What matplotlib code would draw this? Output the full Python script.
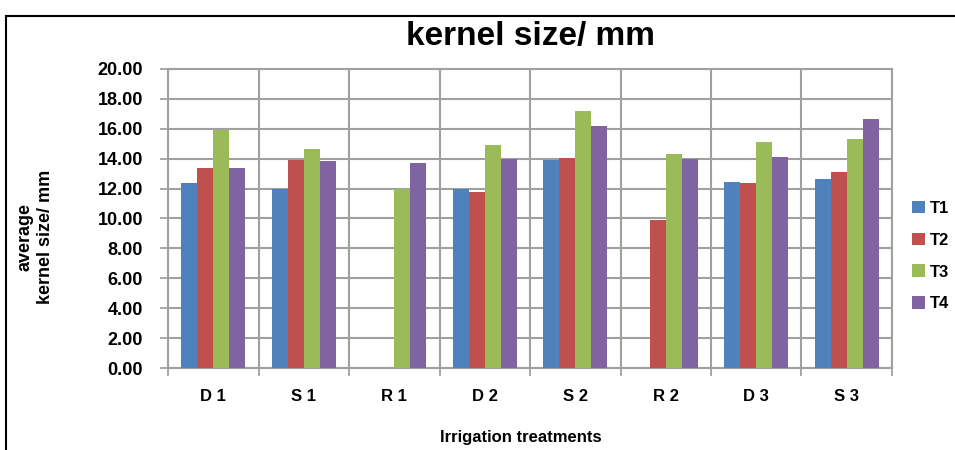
import numpy as np
import matplotlib
matplotlib.use("Agg")
import matplotlib.pyplot as plt
from matplotlib.lines import Line2D

categories = ["D 1", "S 1", "R 1", "D 2", "S 2", "R 2", "D 3", "S 3"]
series = ["T1", "T2", "T3", "T4"]
t1 = [12.40, 12.00, np.nan, 12.00, 13.90, np.nan, 12.42, 12.64]
t2 = [13.40, 13.90, np.nan, 11.80, 14.02, 9.90, 12.40, 13.13]
t3 = [15.92, 14.65, 12.00, 14.92, 17.19, 14.29, 15.09, 15.30]
t4 = [13.40, 13.85, 13.73, 13.98, 16.21, 14.00, 14.11, 16.66]
colors = ["#4F81BD", "#C0504D", "#9BBB59", "#8064A2"]

plt.rcParams["font.family"] = ["Liberation Sans", "DejaVu Sans"]

fig = plt.figure(figsize=(9.55, 4.5), dpi=100)
ax = fig.add_axes([0.176, 0.182, 0.758, 0.665])

x = np.arange(len(categories))
w = 0.177
for i, (vals, c, name) in enumerate(zip([t1, t2, t3, t4], colors, series)):
    ax.bar(x + (i - 1.5) * w, vals, w, color=c, label=name, zorder=3)

ax.set_xlim(-0.5, len(categories) - 0.5)
ax.set_ylim(0, 20)
ax.set_yticks(np.arange(0, 21, 2))
ax.set_yticklabels([f"{v:.2f}" for v in np.arange(0, 21, 2)], fontsize=13, fontweight="bold")
ax.set_xticks(x)
ax.set_xticklabels(categories, fontsize=12, fontweight="bold")
ax.set_xticks(np.arange(-0.5, len(categories)), minor=True)
ax.tick_params(axis="x", which="major", length=0, pad=15)
ax.tick_params(axis="x", which="minor", length=6, color="#999999", width=1.2)
ax.tick_params(axis="y", length=6, color="#999999", width=1.2, pad=12)
ax.grid(axis="y", color="#a0a0a0", lw=1.5, zorder=0)
ax.grid(axis="x", which="minor", color="#a0a0a0", lw=1.5, zorder=0)
for s in ax.spines.values():
    s.set_color("#a0a0a0")
    s.set_linewidth(1.5)

fig.text(0.545, 0.027, "Irrigation treatments", ha="center", va="center",
         fontsize=12, fontweight="bold")
fig.text(0.037, 0.473, "average\nkernel size/ mm", rotation=90, ha="center", va="center",
         fontsize=13, fontweight="bold", linespacing=1.3)
fig.text(0.555, 0.92, "kernel size/ mm", ha="center", va="center", fontsize=24, fontweight="bold")

fig.legend(loc="center left", bbox_to_anchor=(0.955, 0.431), frameon=False,
           handlelength=0.8, handleheight=0.8, labelspacing=1.0, handletextpad=0.3,
           borderaxespad=0, borderpad=0, prop={"weight": "bold", "size": 12})

fig.add_artist(Line2D([0.006, 1.0], [0.965, 0.965], color="black", lw=1.5))
fig.add_artist(Line2D([0.006, 0.006], [0.0, 0.965], color="black", lw=1.5))

fig.savefig("out.png", dpi=100)
